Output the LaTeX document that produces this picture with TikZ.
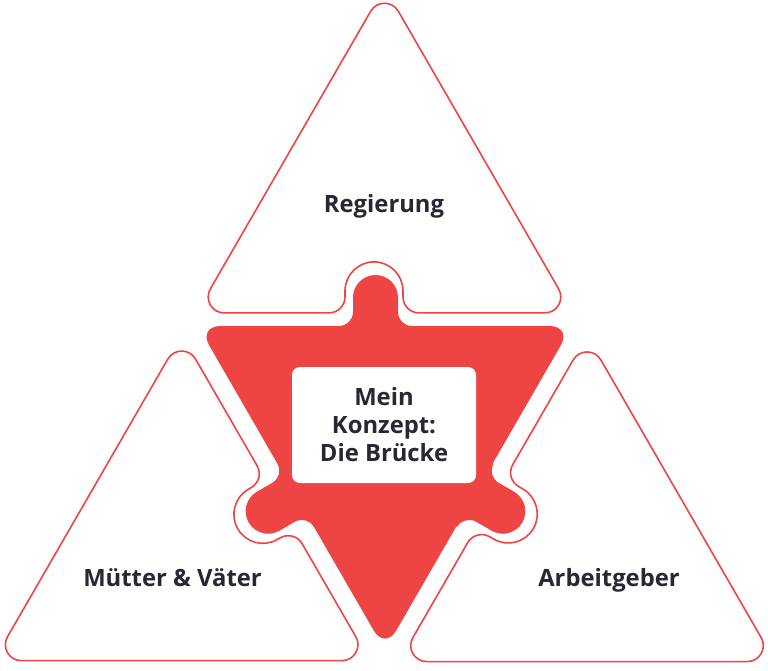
\documentclass[tikz,border=0pt]{standalone}
\usepackage{fontspec}
\setmainfont{Open Sans}
\definecolor{brickred}{RGB}{239,68,68}
\definecolor{inkdark}{RGB}{40,40,52}
% outline triangle in local frame (apex up, centroid at origin, notch on bottom edge)
% #1 = notch axis offset along bottom edge, #2 = notch centre depth above edge
\newcommand\notchtripath[2]{%
  (13.85,-193.1) -- (174.15,84.5)
  .. controls (180.3,95.2) and (172.6,108.5) .. (160.3,108.5)
  -- ({#1+45},108.5)
  .. controls ({#1+36.16},108.5) and ({#1+29},101.34) .. ({#1+29},92.5)
  -- ({#1+29},{108.5-#2})
  .. controls ({#1+29},{108.5-#2-16.02}) and ({#1+16.02},{108.5-#2-29}) .. ({#1},{108.5-#2-29})
  .. controls ({#1-16.02},{108.5-#2-29}) and ({#1-29},{108.5-#2-16.02}) .. ({#1-29},{108.5-#2})
  -- ({#1-29},92.5)
  .. controls ({#1-29},101.34) and ({#1-36.16},108.5) .. ({#1-45},108.5)
  -- (-160.3,108.5)
  .. controls (-172.6,108.5) and (-180.3,95.2) .. (-174.15,84.5)
  -- (-13.85,-193.1)
  .. controls (-7.7,-203.8) and (7.7,-203.8) .. cycle}
% knob in local frame (edge at y=0, outward = -y), #1 = cap centre height
\newcommand\knobpath[1]{%
  (-36.5,6) -- (-36.5,0)
  .. controls (-28.77,0) and (-22.5,-6.27) .. (-22.5,-14)
  -- (-22.5,{-#1})
  .. controls (-22.5,{-#1-12.43}) and (-12.43,{-#1-22.5}) .. (0,{-#1-22.5})
  .. controls (12.43,{-#1-22.5}) and (22.5,{-#1-12.43}) .. (22.5,{-#1})
  -- (22.5,-14)
  .. controls (22.5,-6.27) and (28.77,0) .. (36.5,0)
  -- (36.5,6) -- cycle}
\tikzset{
  outlinetri/.style={draw=brickred, fill=white, line width=1.6pt, line join=round},
  redfill/.style={fill=brickred},
  lbl/.style={text=inkdark, font=\fontsize{23.8}{28}\selectfont\bfseries, inner sep=0pt, anchor=base},
}
\begin{document}
\begin{tikzpicture}[x=1pt,y=-1pt]
\useasboundingbox (0,0) rectangle (768,670);
\fill[white] (0,0) rectangle (768,670);
% outline triangles
\begin{scope}[shift={(384.5,204.4)}]
  \path[outlinetri] \notchtripath{-10.5}{22};
\end{scope}
\begin{scope}[shift={(181.7,552.1)}, rotate=120]
  \path[outlinetri] \notchtripath{-7.9}{19.3};
\end{scope}
\begin{scope}[shift={(587,553)}, rotate=-120]
  \path[outlinetri] \notchtripath{5.6}{20.8};
\end{scope}
% central red puzzle piece
\fill[redfill, rounded corners=22.5pt] (198,326) -- (572,326) -- (385,650) -- cycle;
\begin{scope}[shift={(375.5,326)}]
  \fill[redfill] \knobpath{28.5};
\end{scope}
\begin{scope}[shift={(295.7,495.3)}, rotate=120]
  \fill[redfill] \knobpath{31.8};
\end{scope}
\begin{scope}[shift={(475.3,495.3)}, rotate=-120]
  \fill[redfill] \knobpath{31.8};
\end{scope}
\fill[white, rounded corners=8pt] (292,367) rectangle (476,483);
% labels
\node[lbl] (reg) at (384,212.3) {Regierung};
\node[lbl] (mv) at (172.5,586) {Mütter \& Väter};
\node[lbl] (ag) at (609,586) {Arbeitgeber};
\node[lbl] (c1) at (384,405) {Mein};
\node[lbl] (c2) at (384,433.3) {Konzept:};
\node[lbl] (c3) at (384,461.7) {Die Brücke};
\end{tikzpicture}
\end{document}
